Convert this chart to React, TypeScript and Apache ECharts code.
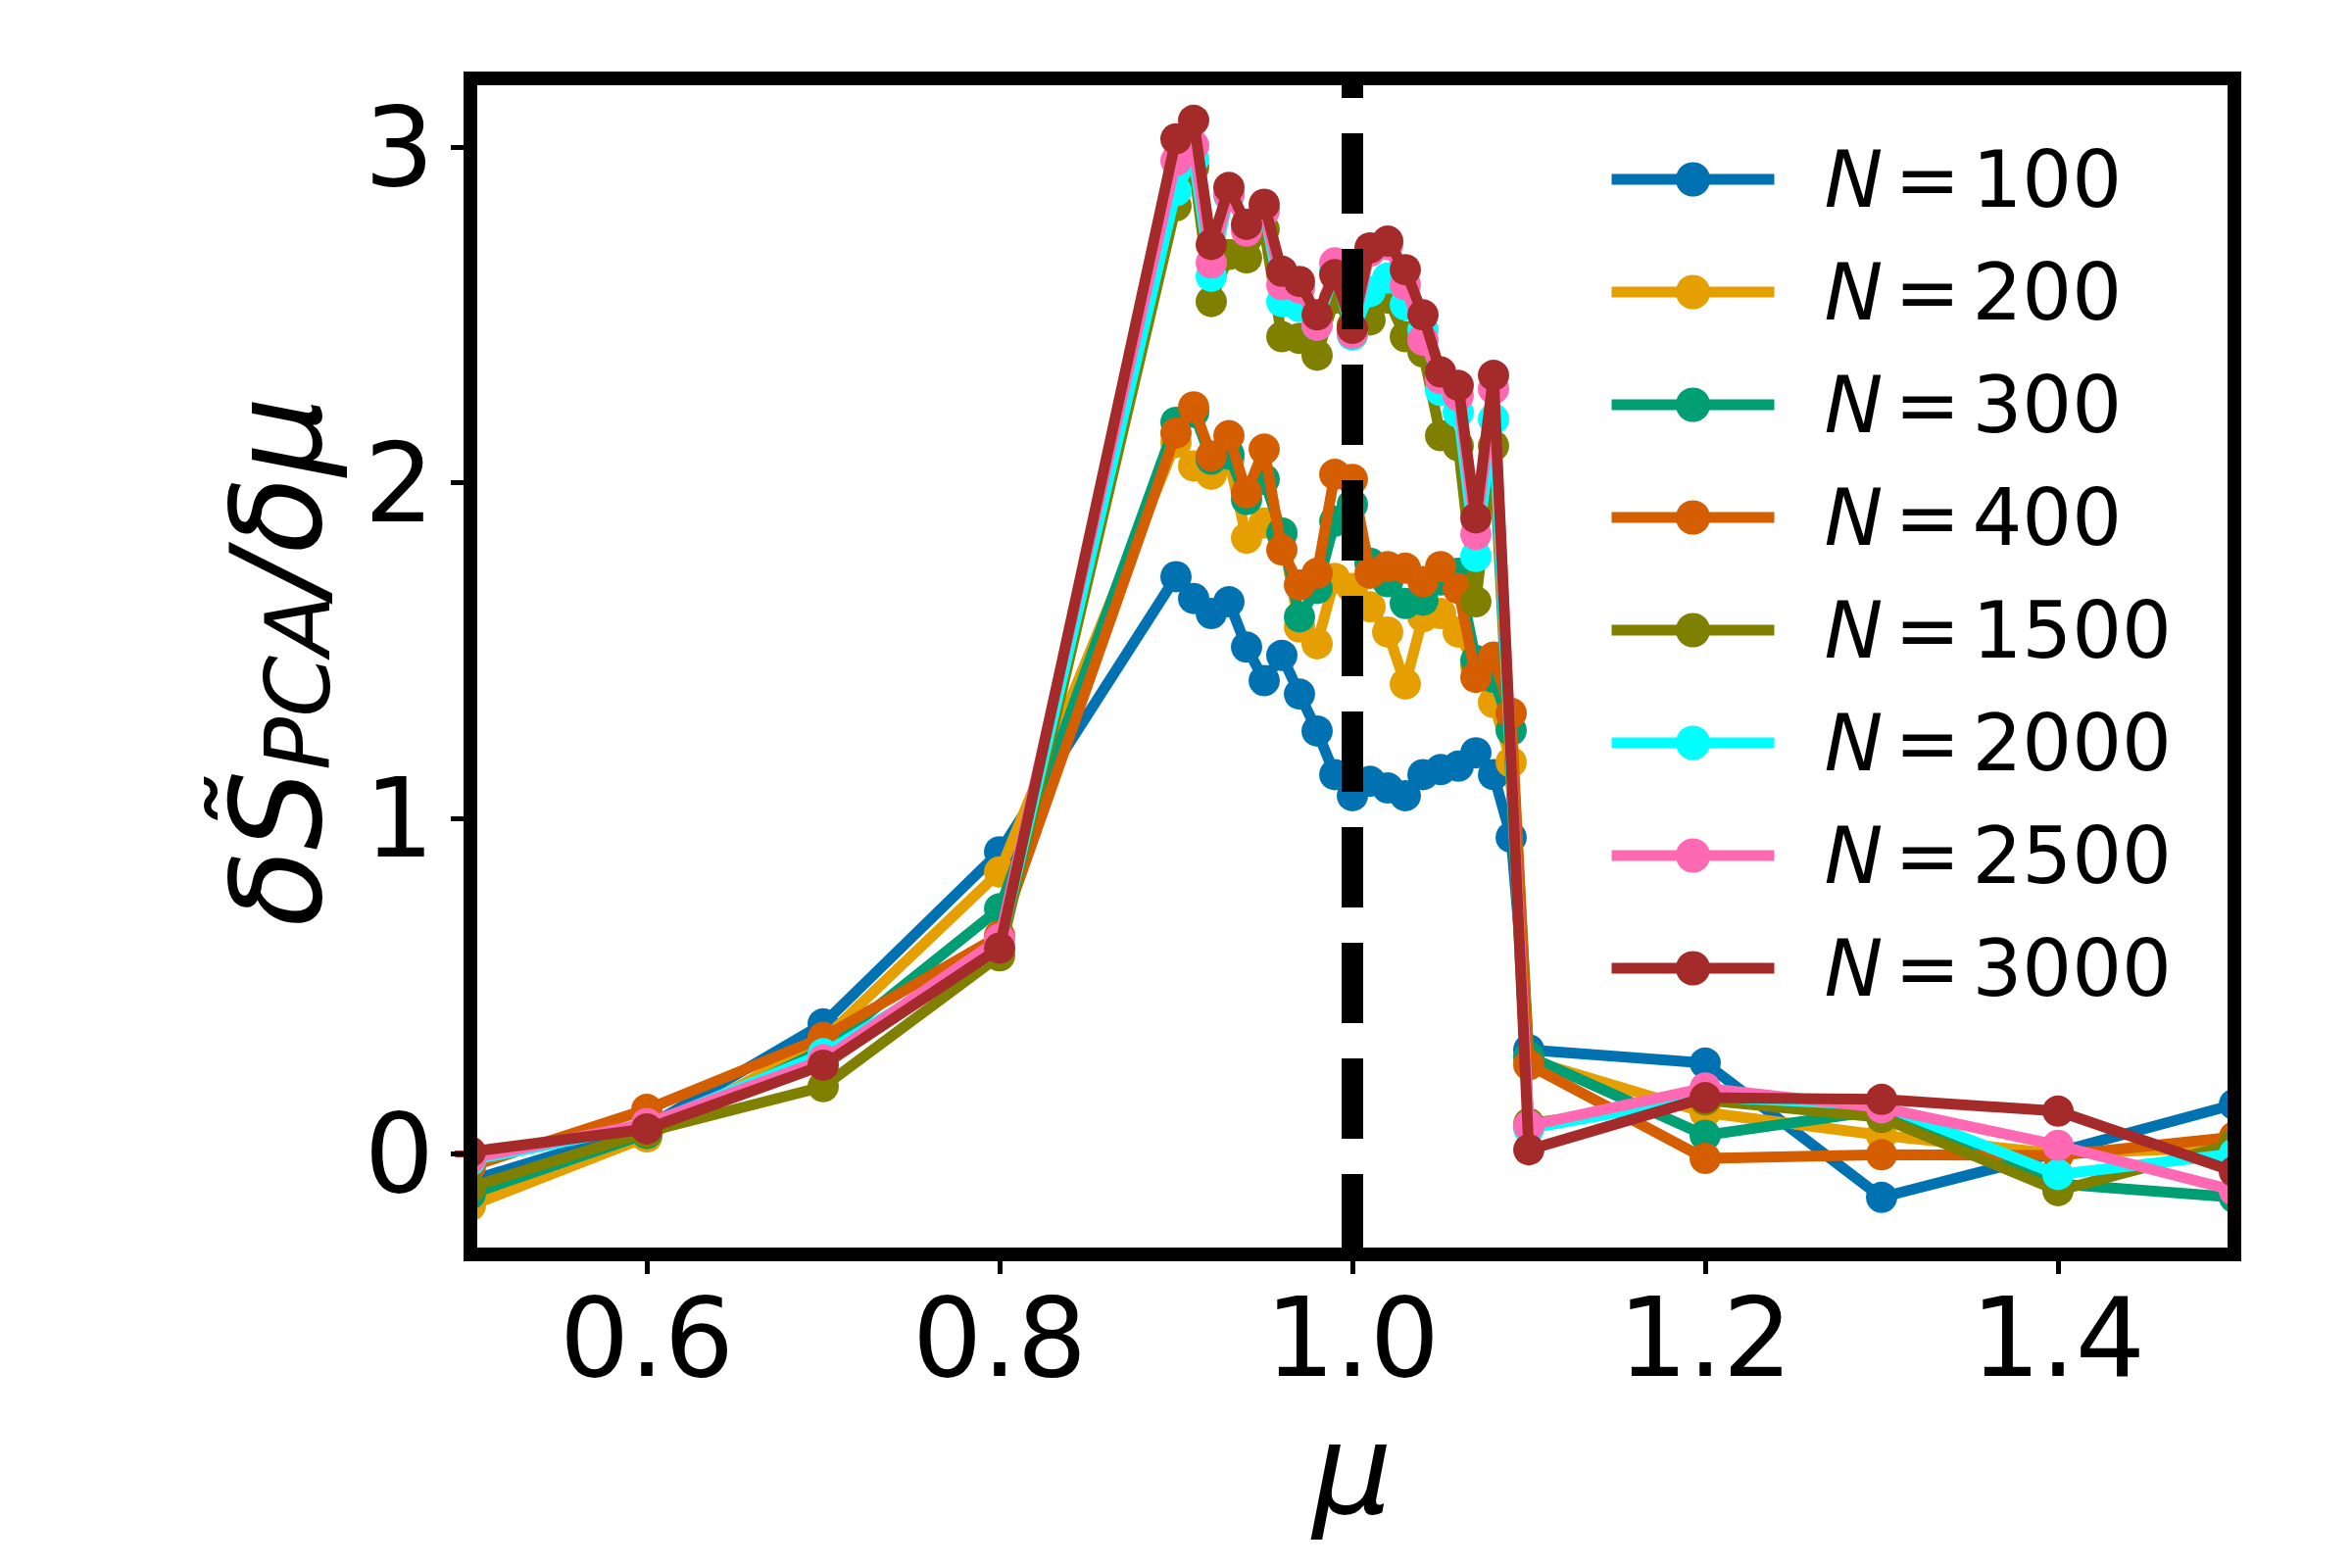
import React, { useEffect, useRef } from "react";
import * as echarts from "echarts";

const MU = [
  0.5, 0.6, 0.7, 0.8,
  0.9, 0.91, 0.92, 0.93, 0.94, 0.95, 0.96, 0.97, 0.98, 0.99,
  1.0, 1.01, 1.02, 1.03, 1.04, 1.05, 1.06, 1.07, 1.08, 1.09,
  1.1, 1.2, 1.3, 1.4, 1.5,
];

const N100 = [-0.08, 0.08, 0.387, 0.9,
  1.72, 1.655, 1.61, 1.645, 1.51, 1.41, 1.485, 1.37, 1.26, 1.13,
  1.067, 1.11, 1.09, 1.067, 1.13, 1.145, 1.155, 1.195, 1.13, 0.943,
  0.31, 0.27, -0.13, 0.005, 0.147];
const N200 = [-0.155, 0.05, 0.34, 0.84,
  2.12, 2.05, 2.025, 2.07, 1.835, 1.88, 1.85, 1.57, 1.52, 1.715,
  1.685, 1.63, 1.555, 1.4, 1.6, 1.61, 1.555, 1.45, 1.345, 1.167,
  0.28, 0.123, 0.055, 0.0, 0.02];
const N300 = [-0.12, 0.06, 0.31, 0.73,
  2.18, 2.21, 2.07, 2.085, 1.95, 2.01, 1.85, 1.6, 1.685, 1.885,
  1.935, 1.76, 1.705, 1.64, 1.65, 1.71, 1.73, 1.47, 1.42, 1.262,
  0.29, 0.055, 0.13, -0.09, -0.13];
const N400 = [-0.038, 0.132, 0.347, 0.65,
  2.148, 2.226, 2.08, 2.14, 1.97, 2.1, 1.8, 1.695, 1.73, 2.025,
  2.01, 1.73, 1.75, 1.745, 1.705, 1.75, 1.685, 1.42, 1.48, 1.313,
  0.265, -0.014, -0.003, -0.005, 0.05];
const N1500 = [-0.1, 0.065, 0.2, 0.59,
  2.825, 2.94, 2.54, 2.68, 2.67, 2.755, 2.435, 2.43, 2.38, 2.55,
  2.47, 2.485, 2.55, 2.435, 2.39, 2.14, 2.11, 1.645, 2.11, null,
  0.09, 0.16, 0.108, -0.11, 0.03];
const N2000 = [-0.02, 0.085, 0.298, 0.615,
  2.87, 2.965, 2.615, 2.855, 2.76, 2.81, 2.54, 2.525, 2.47, 2.63,
  2.44, 2.57, 2.61, 2.53, 2.455, 2.275, 2.21, 1.78, 2.19, null,
  0.075, 0.17, 0.145, -0.062, 0.0];
const N2500 = [-0.014, 0.09, 0.28, 0.64,
  2.96, 3.005, 2.655, 2.86, 2.75, 2.81, 2.59, 2.58, 2.47, 2.655,
  2.445, 2.69, 2.71, 2.59, 2.425, 2.31, 2.26, 1.846, 2.28, null,
  0.084, 0.196, 0.137, 0.025, -0.11];
const N3000 = [0.006, 0.074, 0.264, 0.613,
  3.025, 3.08, 2.71, 2.88, 2.77, 2.83, 2.63, 2.6, 2.5, 2.62,
  2.46, 2.7, 2.72, 2.635, 2.5, 2.33, 2.29, 1.895, 2.32, null,
  0.012, 0.167, 0.162, 0.127, -0.053];

const SERIES_NAMES = ["N = 100", "N = 200", "N = 300", "N = 400", "N = 1500", "N = 2000", "N = 2500", "N = 3000"];
const SERIES_VALUES = [N100, N200, N300, N400, N1500, N2000, N2500, N3000];
const COLORS = ["#0072B2", "#E69F00", "#009E73", "#D55E00", "#808000", "#00FFFF", "#FF69B4", "#A52A2A"];

const X_TICKS = [0.6, 0.8, 1.0, 1.2, 1.4];
const Y_TICKS = [0, 1, 2, 3];
const X_MIN = 0.5;
const X_MAX = 1.5;
const Y_MIN = -0.3;
const Y_MAX = 3.205;
const CRITICAL_MU = 1.0;

const FONT = "DejaVu Sans";

export default function App() {
  const ref = useRef<HTMLDivElement>(null);

  useEffect(() => {
    if (!ref.current) return;
    const chart = echarts.init(ref.current, undefined, { renderer: "svg" });

    const lineSeries = SERIES_NAMES.map((name, i) => ({
      type: "line",
      name,
      data: MU.map((m, j) => [m, SERIES_VALUES[i][j]]).filter((p) => p[1] !== null),
      symbol: "circle",
      symbolSize: 32,
      showSymbol: true,
      showAllSymbol: true,
      lineStyle: { width: 11, color: COLORS[i], join: "round" },
      itemStyle: { color: COLORS[i] },
      z: -20 + i,
      silent: true,
      emphasis: { disabled: true },
      clip: true,
    }));

    const vline = {
      type: "line",
      name: "critical",
      data: [[CRITICAL_MU, Y_MIN], [CRITICAL_MU, Y_MAX]],
      symbol: "none",
      showSymbol: false,
      lineStyle: { width: 22, color: "#000", type: [82, 36], cap: "butt" },
      z: -5,
      silent: true,
      emphasis: { disabled: true },
    };

    const legendRich = {
      p: { width: 46, fontSize: 80, lineHeight: 80, fontFamily: FONT },
      i: { fontStyle: "italic", fontSize: 80, lineHeight: 80, fontFamily: FONT, color: "#000" },
      e: { fontSize: 80, lineHeight: 80, fontFamily: FONT, color: "#000", padding: [0, 12, 0, 12] },
      d: { fontSize: 80, lineHeight: 80, fontFamily: FONT, color: "#000" },
    };

    const tickStyle = { width: 5, color: "#000" };
    const spineStyle = { width: 14, color: "#000" };

    chart.setOption({
      animation: false,
      backgroundColor: "#ffffff",
      grid: { left: 480, right: 120, top: 80, bottom: 320, containLabel: false },
      xAxis: {
        type: "value",
        min: X_MIN,
        max: X_MAX,
        z: 8,
        axisLine: { show: true, onZero: false, lineStyle: spineStyle },
        splitLine: { show: false },
        axisTick: { show: true, inside: false, length: 20, lineStyle: tickStyle, customValues: X_TICKS },
        axisLabel: {
          customValues: X_TICKS,
          formatter: (v: number) => v.toFixed(1),
          fontSize: 112,
          fontFamily: FONT,
          color: "#000",
          margin: 29,
        },
      },
      yAxis: {
        type: "value",
        min: Y_MIN,
        max: Y_MAX,
        z: 8,
        axisLine: { show: true, onZero: false, lineStyle: spineStyle },
        splitLine: { show: false },
        axisTick: { show: true, inside: false, length: 20, lineStyle: tickStyle, customValues: Y_TICKS },
        axisLabel: {
          customValues: Y_TICKS,
          formatter: (v: number) => String(v),
          fontSize: 112,
          fontFamily: FONT,
          color: "#000",
          margin: 37,
        },
      },
      legend: {
        data: SERIES_NAMES,
        orient: "vertical",
        left: 1639,
        top: 143,
        padding: 0,
        itemWidth: 166,
        itemHeight: 44,
        itemGap: 35,
        z: 10,
        selectedMode: false,
        lineStyle: { width: 11 },
        formatter: (name: string) => {
          const num = name.split("=")[1].trim();
          return `{p| }{i|N}{e|=}{d|${num}}`;
        },
        textStyle: { fontFamily: FONT, fontSize: 80, color: "#000", rich: legendRich },
      },
      graphic: [
        // white masks that clip the markers sitting on the left/right axes edges
        { type: "rect", z: -1, silent: true, shape: { x: 440, y: 1120, width: 40, height: 54 }, style: { fill: "#fff" } },
        { type: "rect", z: -1, silent: true, shape: { x: 440, y: 1181, width: 40, height: 80 }, style: { fill: "#fff" } },
        { type: "rect", z: -1, silent: true, shape: { x: 2280, y: 0, width: 120, height: 1600 }, style: { fill: "#fff" } },
        {
          type: "rect",
          z: 5,
          silent: true,
          shape: { x: 480, y: 80, width: 1800, height: 1200 },
          style: { fill: "none", stroke: "#000", lineWidth: 14 },
        },
        {
          type: "text",
          z: 5,
          silent: true,
          x: 282,
          y: 675,
          rotation: Math.PI / 2,
          style: {
            text: "{a|\u03b4S\u0303}{b|PCA}{a|/\u03b4\u03bc}",
            align: "center",
            verticalAlign: "middle",
            rich: {
              a: { fontSize: 128, fontStyle: "italic", fontFamily: FONT, fill: "#000", color: "#000" },
              b: { fontSize: 90, fontStyle: "italic", fontFamily: FONT, fill: "#000", color: "#000", padding: [44, 0, 0, 0] },
            },
          },
        },
        {
          type: "text",
          z: 5,
          silent: true,
          x: 1380,
          y: 1499,
          style: {
            text: "\u03bc",
            fontSize: 128,
            fontStyle: "italic",
            fontFamily: FONT,
            fill: "#000",
            align: "center",
            verticalAlign: "middle",
          },
        },
      ],
      series: [...lineSeries, vline],
    });

    return () => chart.dispose();
  }, []);

  return (
    <div
      ref={ref}
      style={{ position: "fixed", left: 0, top: 0, width: 2400, height: 1600, background: "#fff" }}
    />
  );
}
